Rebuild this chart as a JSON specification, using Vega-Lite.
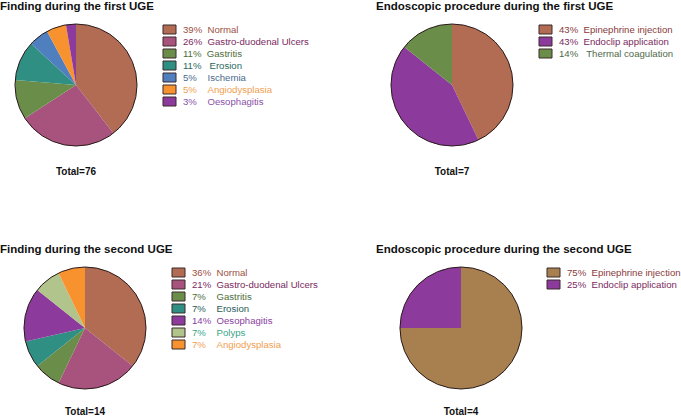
{
  "$schema": "https://vega.github.io/schema/vega-lite/v6.json",
  "padding": {"left": 0, "top": 0, "right": 0, "bottom": 0},
  "background": "white",
  "config": {
    "view": {"stroke": null},
    "font": "Liberation Sans",
    "title": {"font": "Liberation Sans", "fontSize": 11.5, "fontWeight": "bold", "color": "#111111", "anchor": "start"},
    "legend": {
      "orient": "right",
      "padding": 0,
      "symbolType": "M-1.3,-0.9H1.3V0.9H-1.3Z",
      "symbolSize": 100,
      "symbolStrokeColor": "#3b2b2b",
      "symbolStrokeWidth": 1,
      "symbolOpacity": 1,
      "labelFont": "Liberation Sans",
      "labelFontSize": 9.6,
      "labelOffset": 8,
      "rowPadding": -1,
      "labelLimit": 300
    }
  },
  "resolve": {"scale": {"color": "independent", "theta": "independent"}, "legend": {"color": "independent"}},
  "spacing": 66,
  "vconcat": [
    {
      "spacing": 67,
      "resolve": {"scale": {"color": "independent", "theta": "independent"}, "legend": {"color": "independent"}},
      "hconcat": [
        {
          "title": {"text": "Finding during the first UGE", "anchor": "start", "offset": 10},
          "resolve": {"scale": {"color": "independent", "theta": "independent"}, "legend": {"color": "independent"}},
          "vconcat": [
            {
              "width": 152,
              "height": 122,
              "title": {"text": "Total=76", "orient": "bottom", "anchor": "middle", "fontSize": 10, "offset": 19},
              "resolve": {"scale": {"theta": "independent"}},
              "layer": [
                {
                  "data": {"values": [
                    {"cat": "Normal", "n": 30, "k": 1},
                    {"cat": "Gastro-duodenal Ulcers", "n": 20, "k": 2},
                    {"cat": "Gastritis", "n": 8, "k": 3},
                    {"cat": "Erosion", "n": 8, "k": 4},
                    {"cat": "Ischemia", "n": 4, "k": 5},
                    {"cat": "Angiodysplasia", "n": 4, "k": 6},
                    {"cat": "Oesophagitis", "n": 2, "k": 7}
                  ]},
                  "mark": {"type": "arc", "radius": 61},
                  "encoding": {
                    "theta": {"field": "n", "type": "quantitative", "stack": true},
                    "order": {"field": "k", "type": "quantitative"},
                    "color": {
                      "field": "cat", "type": "nominal",
                      "scale": {
                        "domain": ["Normal", "Gastro-duodenal Ulcers", "Gastritis", "Erosion", "Ischemia", "Angiodysplasia", "Oesophagitis"],
                        "range": ["#b16c53", "#a8537e", "#6b8d4a", "#2f8f82", "#4f7fbf", "#f7922f", "#8c3a9c"]
                      },
                      "legend": {
                        "title": null,
                        "offset": 11.5,
                        "labelExpr": "['39%\u00a0\u00a0','26%\u00a0\u00a0','11%\u00a0\u00a0','11%\u00a0\u00a0\u00a0','5%\u00a0\u00a0\u00a0\u00a0','5%\u00a0\u00a0\u00a0\u00a0','3%\u00a0\u00a0\u00a0\u00a0'][indexof(['Normal','Gastro-duodenal Ulcers','Gastritis','Erosion','Ischemia','Angiodysplasia','Oesophagitis'], datum.label)] + datum.label",
                        "encode": {"labels": {"update": {"fill": {"signal": "['#9c5040','#7a2a5e','#4e6e3a','#2a6a5e','#4a6a8e','#f0a050','#8a50a8'][indexof(['Normal','Gastro-duodenal Ulcers','Gastritis','Erosion','Ischemia','Angiodysplasia','Oesophagitis'], datum.value)]"}}}}
                      }
                    }
                  }
                },
                {
                  "data": {"values": [{"v": 1}]},
                  "mark": {"type": "arc", "radius": 61, "filled": false, "stroke": "#2a1a1a", "strokeWidth": 1},
                  "encoding": {"theta": {"field": "v", "type": "quantitative", "stack": true}}
                }
              ]
            }
          ]
        },
        {
          "title": {"text": "Endoscopic procedure during the first UGE", "anchor": "start", "offset": 10},
          "resolve": {"scale": {"color": "independent", "theta": "independent"}, "legend": {"color": "independent"}},
          "vconcat": [
            {
              "width": 152,
              "height": 122,
              "title": {"text": "Total=7", "orient": "bottom", "anchor": "middle", "fontSize": 10, "offset": 19},
              "resolve": {"scale": {"theta": "independent"}},
              "layer": [
                {
                  "data": {"values": [
                    {"cat": "Epinephrine injection", "n": 3, "k": 1},
                    {"cat": "Endoclip application", "n": 3, "k": 2},
                    {"cat": "Thermal coagulation", "n": 1, "k": 3}
                  ]},
                  "mark": {"type": "arc", "radius": 61},
                  "encoding": {
                    "theta": {"field": "n", "type": "quantitative", "stack": true},
                    "order": {"field": "k", "type": "quantitative"},
                    "color": {
                      "field": "cat", "type": "nominal",
                      "scale": {
                        "domain": ["Epinephrine injection", "Endoclip application", "Thermal coagulation"],
                        "range": ["#b16c53", "#8c3a9c", "#6b8d4a"]
                      },
                      "legend": {
                        "title": null,
                        "offset": 11.5,
                        "labelExpr": "['43%\u00a0\u00a0','43%\u00a0\u00a0','14%\u00a0\u00a0\u00a0'][indexof(['Epinephrine injection','Endoclip application','Thermal coagulation'], datum.label)] + datum.label",
                        "encode": {"labels": {"update": {"fill": {"signal": "['#8a3a3a','#7a2a5e','#4e6a4a'][indexof(['Epinephrine injection','Endoclip application','Thermal coagulation'], datum.value)]"}}}}
                      }
                    }
                  }
                },
                {
                  "data": {"values": [{"v": 1}]},
                  "mark": {"type": "arc", "radius": 61, "filled": false, "stroke": "#2a1a1a", "strokeWidth": 1},
                  "encoding": {"theta": {"field": "v", "type": "quantitative", "stack": true}}
                }
              ]
            }
          ]
        }
      ]
    },
    {
      "spacing": 58,
      "resolve": {"scale": {"color": "independent", "theta": "independent"}, "legend": {"color": "independent"}},
      "hconcat": [
        {
          "title": {"text": "Finding during the second UGE", "anchor": "start", "offset": 10},
          "resolve": {"scale": {"color": "independent", "theta": "independent"}, "legend": {"color": "independent"}},
          "vconcat": [
            {
              "width": 170,
              "height": 122,
              "title": {"text": "Total=14", "orient": "bottom", "anchor": "middle", "fontSize": 10, "offset": 16},
              "resolve": {"scale": {"theta": "independent"}},
              "layer": [
                {
                  "data": {"values": [
                    {"cat": "Normal", "n": 5, "k": 1},
                    {"cat": "Gastro-duodenal Ulcers", "n": 3, "k": 2},
                    {"cat": "Gastritis", "n": 1, "k": 3},
                    {"cat": "Erosion", "n": 1, "k": 4},
                    {"cat": "Oesophagitis", "n": 2, "k": 5},
                    {"cat": "Polyps", "n": 1, "k": 6},
                    {"cat": "Angiodysplasia", "n": 1, "k": 7}
                  ]},
                  "mark": {"type": "arc", "radius": 61},
                  "encoding": {
                    "theta": {"field": "n", "type": "quantitative", "stack": true},
                    "order": {"field": "k", "type": "quantitative"},
                    "color": {
                      "field": "cat", "type": "nominal",
                      "scale": {
                        "domain": ["Normal", "Gastro-duodenal Ulcers", "Gastritis", "Erosion", "Oesophagitis", "Polyps", "Angiodysplasia"],
                        "range": ["#b16c53", "#a8537e", "#6b8d4a", "#2f8f82", "#8c3a9c", "#b1c48b", "#f7922f"]
                      },
                      "legend": {
                        "title": null,
                        "offset": 2.5,
                        "labelExpr": "['36%\u00a0\u00a0','21%\u00a0\u00a0','7%\u00a0\u00a0\u00a0\u00a0','7%\u00a0\u00a0\u00a0\u00a0','14%\u00a0\u00a0','7%\u00a0\u00a0\u00a0\u00a0','7%\u00a0\u00a0\u00a0\u00a0'][indexof(['Normal','Gastro-duodenal Ulcers','Gastritis','Erosion','Oesophagitis','Polyps','Angiodysplasia'], datum.label)] + datum.label",
                        "encode": {"labels": {"update": {"fill": {"signal": "['#9c5040','#7a2a5e','#4e6e3a','#2a5e5a','#8a40a0','#3aa58a','#f0a050'][indexof(['Normal','Gastro-duodenal Ulcers','Gastritis','Erosion','Oesophagitis','Polyps','Angiodysplasia'], datum.value)]"}}}}
                      }
                    }
                  }
                },
                {
                  "data": {"values": [{"v": 1}]},
                  "mark": {"type": "arc", "radius": 61, "filled": false, "stroke": "#2a1a1a", "strokeWidth": 1},
                  "encoding": {"theta": {"field": "v", "type": "quantitative", "stack": true}}
                }
              ]
            }
          ]
        },
        {
          "title": {"text": "Endoscopic procedure during the second UGE", "anchor": "start", "offset": 10},
          "resolve": {"scale": {"color": "independent", "theta": "independent"}, "legend": {"color": "independent"}},
          "vconcat": [
            {
              "width": 170,
              "height": 122,
              "title": {"text": "Total=4", "orient": "bottom", "anchor": "middle", "fontSize": 10, "offset": 16},
              "resolve": {"scale": {"theta": "independent"}},
              "layer": [
                {
                  "data": {"values": [
                    {"cat": "Epinephrine injection", "n": 3, "k": 1},
                    {"cat": "Endoclip application", "n": 1, "k": 2}
                  ]},
                  "mark": {"type": "arc", "radius": 61},
                  "encoding": {
                    "theta": {"field": "n", "type": "quantitative", "stack": true},
                    "order": {"field": "k", "type": "quantitative"},
                    "color": {
                      "field": "cat", "type": "nominal",
                      "scale": {
                        "domain": ["Epinephrine injection", "Endoclip application"],
                        "range": ["#a8804f", "#8c3a9c"]
                      },
                      "legend": {
                        "title": null,
                        "offset": 1.5,
                        "labelExpr": "['75%\u00a0\u00a0','25%\u00a0\u00a0'][indexof(['Epinephrine injection','Endoclip application'], datum.label)] + datum.label",
                        "encode": {"labels": {"update": {"fill": {"signal": "['#8a3a3a','#7a2a5e'][indexof(['Epinephrine injection','Endoclip application'], datum.value)]"}}}}
                      }
                    }
                  }
                },
                {
                  "data": {"values": [{"v": 1}]},
                  "mark": {"type": "arc", "radius": 61, "filled": false, "stroke": "#2a1a1a", "strokeWidth": 1},
                  "encoding": {"theta": {"field": "v", "type": "quantitative", "stack": true}}
                }
              ]
            }
          ]
        }
      ]
    }
  ]
}
